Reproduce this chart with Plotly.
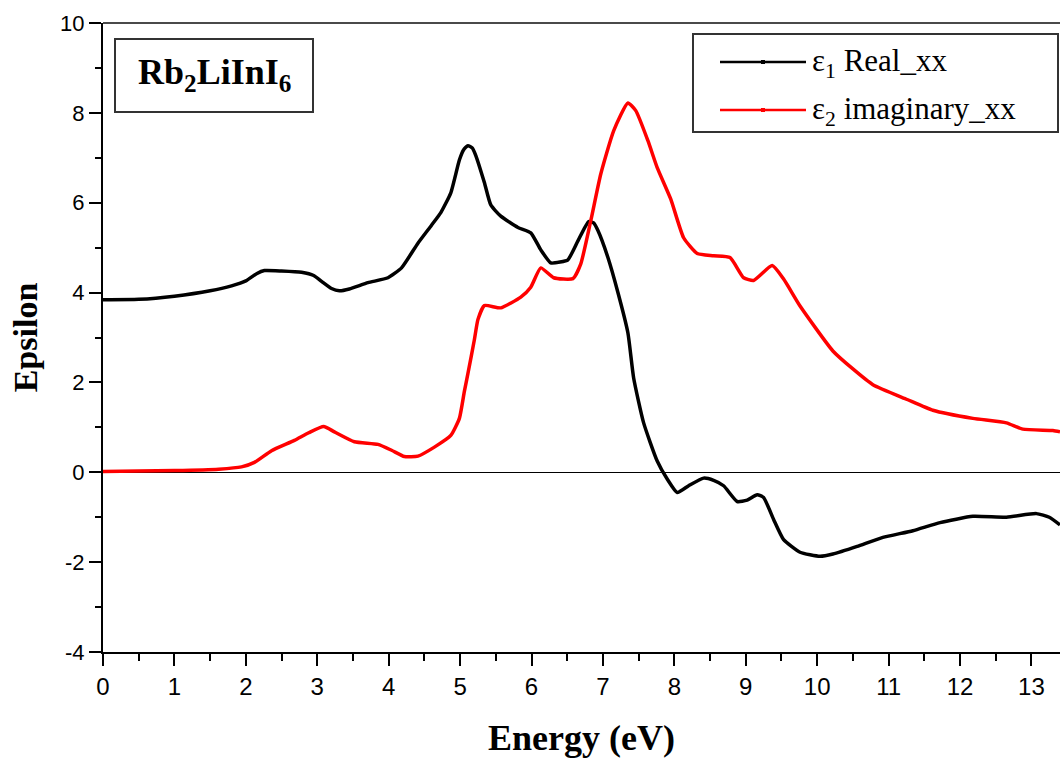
import plotly.graph_objects as go

# Dielectric function of Rb2LiInI6 (xx component)
energy_re = [0, 0.5, 1.0, 1.5, 1.8, 2.0, 2.15, 2.26, 2.5, 2.78, 2.95, 3.06, 3.2, 3.31, 3.45,
             3.71, 3.99, 4.18, 4.41, 4.6, 4.73, 4.87, 4.99, 5.05, 5.11, 5.17, 5.22, 5.34, 5.43,
             5.57, 5.81, 5.99, 6.13, 6.27, 6.4, 6.51, 6.65, 6.80, 6.87, 6.93, 7.07, 7.21, 7.35,
             7.43, 7.57, 7.76, 7.9, 8.04, 8.2, 8.41, 8.55, 8.69, 8.88, 9.02, 9.16, 9.25, 9.39,
             9.53, 9.76, 10.04, 10.22, 10.56, 10.92, 11.34, 11.72, 12.18, 12.65, 13.07, 13.25, 13.4]
eps1_real = [3.84, 3.85, 3.92, 4.04, 4.15, 4.26, 4.42, 4.49, 4.48, 4.45, 4.38, 4.25, 4.09, 4.04, 4.08,
             4.22, 4.33, 4.55, 5.1, 5.5, 5.78, 6.22, 6.95, 7.18, 7.27, 7.22, 7.05, 6.45, 5.95,
             5.7, 5.45, 5.33, 4.95, 4.66, 4.68, 4.73, 5.15, 5.58, 5.55, 5.38, 4.78, 4.0, 3.1,
             2.1, 1.1, 0.25, -0.15, -0.45, -0.3, -0.13, -0.18, -0.3, -0.65, -0.62, -0.5, -0.56, -1.05,
             -1.5, -1.78, -1.87, -1.82, -1.65, -1.45, -1.3, -1.12, -0.98, -1.0, -0.92, -1.0, -1.17]

energy_im = [0, 0.5, 1.0, 1.62, 1.94, 2.12, 2.36, 2.68, 2.88, 3.09, 3.24, 3.52, 3.85, 4.04, 4.22,
             4.41, 4.64, 4.87, 4.99, 5.06, 5.11, 5.2, 5.25, 5.34, 5.57, 5.85, 5.99, 6.13, 6.31,
             6.58, 6.69, 6.83, 6.97, 7.15, 7.35, 7.46, 7.63, 7.76, 7.95, 8.13, 8.32, 8.55, 8.78,
             8.97, 9.11, 9.37, 9.53, 9.76, 10.22, 10.5, 10.78, 11.26, 11.62, 12.18, 12.65, 12.88,
             13.3, 13.4]
eps2_imag = [0.02, 0.03, 0.04, 0.07, 0.12, 0.22, 0.48, 0.71, 0.88, 1.02, 0.9, 0.68, 0.62, 0.49, 0.35,
             0.36, 0.56, 0.82, 1.2, 1.8, 2.2, 2.95, 3.4, 3.71, 3.66, 3.9, 4.12, 4.55, 4.33,
             4.31, 4.64, 5.6, 6.64, 7.6, 8.22, 8.05, 7.38, 6.78, 6.08, 5.22, 4.87, 4.82, 4.78,
             4.33, 4.27, 4.6, 4.3, 3.7, 2.7, 2.3, 1.95, 1.62, 1.38, 1.2, 1.1, 0.96,
             0.93, 0.9]

series_names = ["ε<sub>1</sub> Real_xx", "ε<sub>2</sub> imaginary_xx"]
series_colors = ["#000000", "#ff0000"]

x_ticks = list(range(0, 14))
y_ticks = [-4, -2, 0, 2, 4, 6, 8, 10]
y_tick_text = ["-4", "-2", "0", "2", "4", "6", "8", "10"]

W, H = 1060, 760
M_L, M_R, M_T, M_B = 103, 0, 23, 108
PW, PH = W - M_L - M_R, H - M_T - M_B


def px(x):
    """Horizontal pixel -> paper fraction."""
    return (x - M_L) / PW


def py(y):
    """Vertical pixel (from top) -> paper fraction."""
    return (H - M_B - y) / PH


SERIF = "Liberation Serif, Times New Roman, serif"

fig = go.Figure()
for xs, ys, name, color in [(energy_re, eps1_real, series_names[0], series_colors[0]),
                            (energy_im, eps2_imag, series_names[1], series_colors[1])]:
    fig.add_trace(go.Scatter(
        x=xs, y=ys, mode="lines", name=name, showlegend=False,
        line=dict(color=color, width=3.5, shape="spline", smoothing=0.5),
    ))

axis_common = dict(
    showgrid=False, showline=True, linecolor="black", linewidth=2,
    ticks="outside", tickcolor="black", tickwidth=2, ticklen=12,
)

fig.update_xaxes(
    **axis_common, range=[0, 13.4], tickvals=x_ticks, zeroline=False,
    tickfont=dict(family="Liberation Sans Narrow, Liberation Sans, Arial", size=24, color="black"),
    minor=dict(dtick=0.5, ticklen=7, tickwidth=2, tickcolor="black", ticks="outside"),
    title=dict(text="<b>Energy (eV)</b>", font=dict(family=SERIF, size=36, color="black"),
               standoff=26),
)
fig.update_yaxes(
    **axis_common, range=[-4, 10], tickvals=y_ticks, ticktext=y_tick_text,
    zeroline=True, zerolinecolor="black", zerolinewidth=1,
    tickfont=dict(family="Liberation Sans, Arial", size=22, color="black"),
    minor=dict(dtick=1, ticklen=6, tickwidth=2, tickcolor="black", ticks="outside"),
    title=dict(text="<b>Epsilon</b>", font=dict(family=SERIF, size=34, color="black"),
               standoff=12),
)

shapes = [
    # top frame line
    dict(type="line", xref="paper", yref="paper", x0=0, x1=1, y0=1, y1=1,
         line=dict(color="#4a4a4a", width=2)),
    # legend frame
    dict(type="rect", xref="paper", yref="paper",
         x0=px(693), x1=px(1058), y0=py(132), y1=py(34),
         line=dict(color="#333333", width=2)),
    # compound label frame
    dict(type="rect", xref="paper", yref="paper",
         x0=px(115), x1=px(313), y0=py(112), y1=py(39),
         line=dict(color="#333333", width=2)),
]

annotations = [
    dict(text="<b>Rb<sub>2</sub>LiInI<sub>6</sub></b>", xref="paper", yref="paper",
         x=px(214), y=py(75), xanchor="center", yanchor="middle", showarrow=False,
         font=dict(family=SERIF, size=36, color="black")),
]

# legend entries: line sample with a small point marker, then the label
for row_y, name, color in zip([62, 110], series_names, series_colors):
    shapes.append(dict(type="line", xref="paper", yref="paper",
                       x0=px(720), x1=px(806), y0=py(row_y), y1=py(row_y),
                       line=dict(color=color, width=2.5)))
    shapes.append(dict(type="rect", xref="paper", yref="paper",
                       x0=px(761), x1=px(765), y0=py(row_y + 2), y1=py(row_y - 2),
                       line=dict(width=0), fillcolor=color))
    annotations.append(dict(text=name, xref="paper", yref="paper",
                            x=px(810), y=py(row_y + 1), xanchor="left", yanchor="middle",
                            showarrow=False,
                            font=dict(family=SERIF, size=31, color="black")))

fig.update_layout(
    width=W, height=H,
    margin=dict(l=M_L, r=M_R, t=M_T, b=M_B),
    plot_bgcolor="white", paper_bgcolor="white",
    showlegend=False,
    shapes=shapes,
    annotations=annotations,
)

fig.write_html("out.html")
